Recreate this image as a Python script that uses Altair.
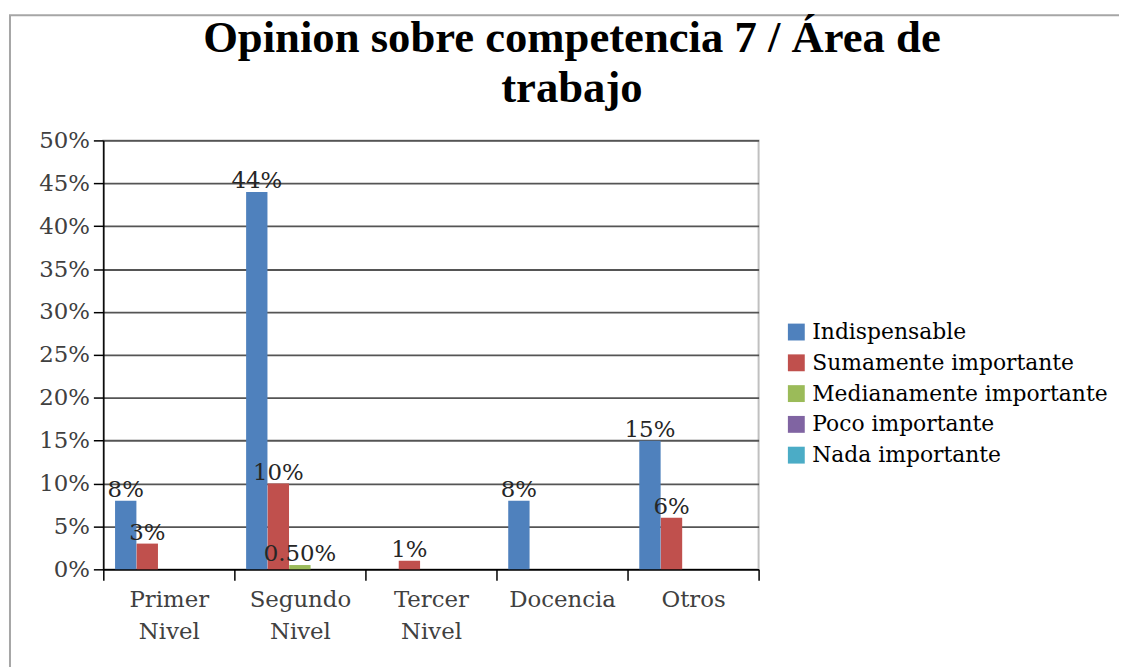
import altair as alt
import pandas as pd

categories = ["Primer Nivel", "Segundo Nivel", "Tercer Nivel", "Docencia", "Otros"]
series = ["Indispensable", "Sumamente importante", "Medianamente importante",
          "Poco importante", "Nada importante"]
colors = ["#4F81BD", "#C0504D", "#9BBB59", "#8064A2", "#4BACC6"]

indispensable = [0.08, 0.44, 0.0, 0.08, 0.15]
sumamente = [0.03, 0.10, 0.01, 0.0, 0.06]
medianamente = [0.0, 0.005, 0.0, 0.0, 0.0]
poco = [0.0, 0.0, 0.0, 0.0, 0.0]
nada = [0.0, 0.0, 0.0, 0.0, 0.0]
y_ticks = [0, 0.05, 0.10, 0.15, 0.20, 0.25, 0.30, 0.35, 0.40, 0.45, 0.50]

title_lines = ["Opinion sobre competencia 7 / Área de", "trabajo"]

values_by_series = [indispensable, sumamente, medianamente, poco, nada]
rows = []
for s, vals in zip(series, values_by_series):
    for c, v in zip(categories, vals):
        rows.append({"categoria": c, "serie": s, "valor": v})
df = pd.DataFrame(rows)

FONT = "DejaVu Serif"
FS = 23
W, H = 660, 432

x_enc = alt.X(
    "categoria:N",
    sort=categories,
    scale=alt.Scale(paddingInner=0, paddingOuter=0),
    axis=alt.Axis(
        title=None,
        labelAngle=0,
        labelExpr="split(datum.label, ' ')",
        labelFont=FONT,
        labelFontSize=FS,
        labelColor="#404040",
        labelPadding=8,
        labelLineHeight=33,
        tickBand="extent",
        ticks=True,
        tickSize=11,
        tickColor="#000000",
        tickWidth=1.5,
        domainColor="#000000",
        domainWidth=1.5,
        grid=False,
    ),
)

y_enc = alt.Y(
    "valor:Q",
    scale=alt.Scale(domain=[0, 0.5], nice=False),
    axis=alt.Axis(
        title=None,
        values=y_ticks,
        format=".0%",
        labelFont=FONT,
        labelFontSize=FS,
        labelColor="#404040",
        labelPadding=4,
        tickSize=10,
        tickColor="#000000",
        tickWidth=1.5,
        domainColor="#000000",
        domainWidth=1.5,
        grid=True,
        gridColor="#555555",
        gridWidth=1.8,
    ),
)

xoff = alt.XOffset(
    "serie:N",
    sort=series,
    scale=alt.Scale(domain=series, paddingInner=0, paddingOuter=0.54),
)

color_enc = alt.Color(
    "serie:N",
    sort=series,
    scale=alt.Scale(domain=series, range=colors),
    legend=alt.Legend(
        title=None,
        orient="none",
        legendX=687,
        legendY=182,
        symbolType="square",
        symbolSize=289,
        symbolStrokeWidth=0,
        labelFont=FONT,
        labelFontSize=22,
        labelColor="#000000",
        rowPadding=9,
        labelOffset=5,
        labelLimit=400,
    ),
)

frame = alt.Chart(pd.DataFrame({"k": [0]})).mark_rect(
    fillOpacity=0, stroke="#a6a6a6", strokeWidth=2
).encode(
    x=alt.value(-94), x2=alt.value(1040), y=alt.value(-126), y2=alt.value(560)
)

bars = alt.Chart(df).mark_bar(size=21.5).encode(
    x=x_enc, y=y_enc, xOffset=xoff, color=color_enc
)

labels = alt.Chart(df).transform_filter(
    "datum.valor > 0"
).transform_calculate(
    etiqueta="datum.valor < 0.01 ? format(datum.valor, '.2%') : format(datum.valor, '.0%')"
).mark_text(
    font=FONT, fontSize=FS, color="#262626", baseline="alphabetic", dy=-4
).encode(
    x=alt.X("categoria:N", sort=categories),
    xOffset=alt.XOffset("serie:N", sort=series),
    y=alt.Y("valor:Q"),
    text="etiqueta:N",
)

chart = alt.layer(frame, bars, labels).properties(
    width=W,
    height=H,
    autosize=alt.AutoSizeParams(type="none"),
    padding={"left": 96, "top": 131, "right": 363, "bottom": 96},
    title=alt.TitleParams(
        text=title_lines,
        font="Liberation Serif",
        fontSize=45,
        fontWeight="bold",
        color="#000000",
        anchor="middle",
        dx=142,
        dy=111,
        offset=14,
        lineHeight=50,
    ),
).configure_view(
    stroke="#c0c0c0", strokeWidth=2
)

chart.save("out.html", embed_options={"renderer": "svg", "actions": False})
